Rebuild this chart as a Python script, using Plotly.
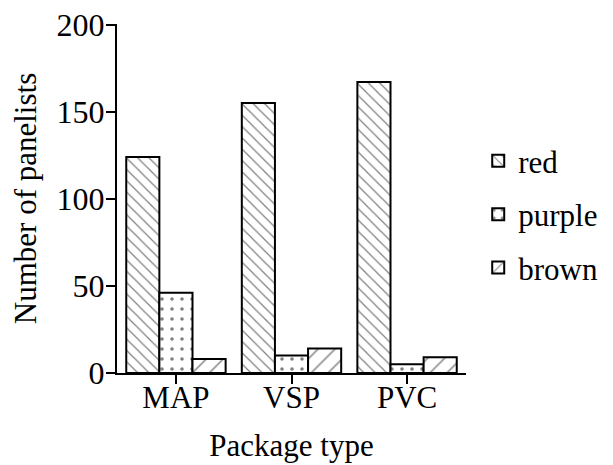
import plotly.graph_objects as go

categories = ["MAP", "VSP", "PVC"]
red = [124, 155, 167]
purple = [46, 10, 5]
brown = [8, 14, 9]
series_names = ["red", "purple", "brown"]
y_ticks = [0, 50, 100, 150, 200]

font = "Liberation Serif"
fs = 31
off = 8  # page body margin compensation

patterns = [
    dict(shape="\\", size=8, solidity=0.15, fgcolor="black", bgcolor="white"),
    dict(shape=".", size=10, solidity=0.1, fgcolor="black", bgcolor="white"),
    dict(shape="/", size=12, solidity=0.12, fgcolor="black", bgcolor="white"),
]

fig = go.Figure()
for name, vals, pat in zip(series_names, [red, purple, brown], patterns):
    fig.add_trace(go.Bar(
        x=categories, y=vals, name=name, legendgroup=name,
        marker=dict(color="white", line=dict(color="black", width=2), pattern=pat),
    ))

fig.update_layout(
    width=613, height=465,
    margin=dict(l=117 - off, r=147 + off, t=24 - off, b=92 + off),
    paper_bgcolor="white", plot_bgcolor="white",
    barmode="group", bargap=0.14, bargroupgap=0,
    font=dict(family=font, size=fs, color="black"),
    showlegend=True,
    legend=dict(x=1.035, y=0.455, xanchor="left", yanchor="middle",
                font=dict(family=font, size=fs, color="black"), tracegroupgap=10,
                itemsizing="constant", bgcolor="rgba(0,0,0,0)"),
)
fig.update_xaxes(
    range=[-0.51, 2.51], showline=True, linecolor="black", linewidth=2,
    ticks="outside", ticklen=9, tickwidth=2, tickcolor="black",
    showgrid=False, zeroline=False, automargin=False, ticklabelstandoff=-13,
    ticklabeloverflow="allow",
    title=dict(text="Package type", font=dict(family=font, size=fs), standoff=20),
    tickfont=dict(family=font, size=fs),
)
fig.update_yaxes(
    range=[0, 200.3], tickvals=y_ticks, showline=True, linecolor="black", linewidth=2,
    ticks="outside", ticklen=9, tickwidth=2, tickcolor="black",
    showgrid=False, zeroline=False, automargin=False, ticklabelstandoff=-5,
    ticklabeloverflow="allow",
    title=dict(text="Number of panelists", font=dict(family=font, size=fs), standoff=17),
    tickfont=dict(family=font, size=32),
)

fig.write_html("out.html")
